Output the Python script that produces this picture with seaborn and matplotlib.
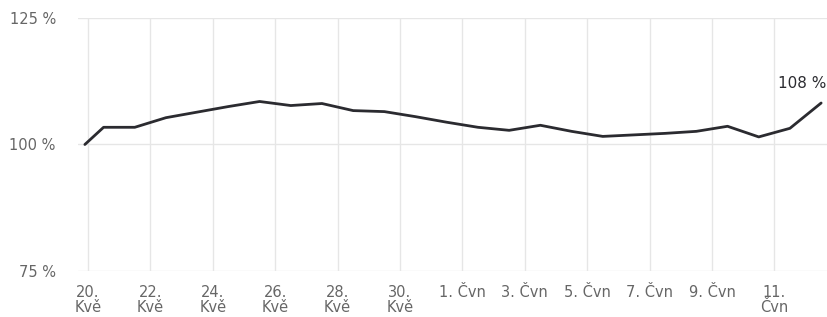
import matplotlib
matplotlib.use('Agg')
import matplotlib.pyplot as plt
import pandas as pd
import seaborn as sns

# days counted from 20. Kvě
days = [-0.1, 0.5, 1.5, 2.5, 3.5, 4.5, 5.5, 6.5, 7.5, 8.5, 9.5, 10.5, 11.5,
        12.5, 13.5, 14.5, 15.5, 16.5, 17.5, 18.5, 19.5, 20.5, 21.5, 22.5, 23.5]
values = [100.0, 103.4, 103.4, 105.3, 106.4, 107.5, 108.5, 107.7, 108.1,
          106.7, 106.5, 105.5, 104.4, 103.4, 102.8, 103.8, 102.6, 101.6,
          101.9, 102.2, 102.6, 103.6, 101.5, 103.2, 108.2]

tick_days = [0, 2, 4, 6, 8, 10, 12, 14, 16, 18, 20, 22]
tick_labels = ['20.\nKvě', '22.\nKvě', '24.\nKvě', '26.\nKvě', '28.\nKvě', '30.\nKvě',
               '1. Čvn', '3. Čvn', '5. Čvn', '7. Čvn', '9. Čvn', '11.\nČvn']
y_ticks = [75, 100, 125]

df = pd.DataFrame({'day': days, 'value': values})

sns.set_theme(style='white')
plt.rcParams['font.family'] = ['DejaVu Sans']

fig = plt.figure(figsize=(8.28, 3.17), dpi=100)
ax = fig.add_axes([78 / 828, 1 - 271 / 317, 1 - 78 / 828, (271 - 18) / 317])

sns.lineplot(data=df, x='day', y='value', ax=ax, color='#2b2b30', linewidth=2.0)

ax.set_xlim(-0.32, 23.72)
ax.set_ylim(75, 125)
ax.set_xticks(tick_days)
ax.set_xticklabels(tick_labels)
ax.set_yticks(y_ticks)
ax.set_yticklabels([f'{v} %' for v in y_ticks])
ax.set_xlabel('')
ax.set_ylabel('')

ax.grid(True, color='#e6e6e6', linewidth=1)
ax.set_axisbelow(True)
for s in ax.spines.values():
    s.set_visible(False)
ax.tick_params(axis='both', length=0, labelsize=10.5, labelcolor='#666666')
ax.tick_params(axis='x', pad=10)
ax.tick_params(axis='y', pad=16)
for lab in ax.get_xticklabels():
    lab.set_linespacing(1.0)

ax.annotate(f'{values[-1]:.0f} %', xy=(days[-1], values[-1]), xytext=(4, 9),
            textcoords='offset points', ha='right', va='bottom',
            fontsize=11, color='#2b2b30')

fig.savefig('out.png', dpi=100)
